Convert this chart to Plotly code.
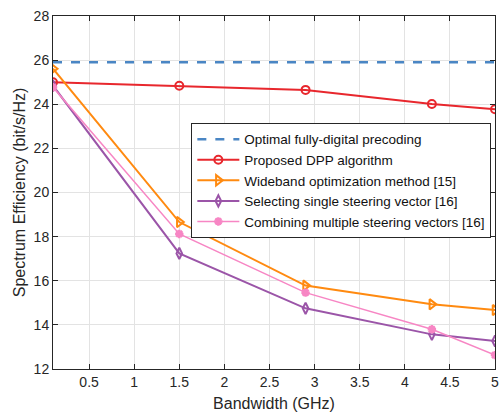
import plotly.graph_objects as go

# Bandwidth sweep (GHz)
bandwidth = [0.1, 1.5, 2.9, 4.3, 5.0]

# Spectrum efficiency (bit/s/Hz) per method
optimal_digital = [25.9, 25.9, 25.9, 25.9, 25.9]
proposed_dpp = [25.0, 24.84, 24.65, 24.01, 23.77]
wideband_opt = [25.61, 18.66, 15.78, 14.93, 14.67]
single_steering = [24.84, 17.24, 14.75, 13.57, 13.27]
multi_steering = [24.77, 18.12, 15.46, 13.8, 12.63]

x_ticks = [0.5, 1, 1.5, 2, 2.5, 3, 3.5, 4, 4.5, 5]
x_tick_text = ["0.5", "1", "1.5", "2", "2.5", "3", "3.5", "4", "4.5", "5"]
y_ticks = [12, 14, 16, 18, 20, 22, 24, 26, 28]

fig = go.Figure()

fig.add_trace(go.Scatter(
    x=bandwidth, y=optimal_digital, mode="lines",
    name="Optimal fully-digital precoding",
    line=dict(color="#4a86c4", width=2.5, dash="dash"),
))
fig.add_trace(go.Scatter(
    x=bandwidth, y=proposed_dpp, mode="lines+markers",
    name="Proposed DPP algorithm",
    line=dict(color="#e8272d", width=2),
    marker=dict(symbol="circle-open", size=8, line=dict(width=2, color="#e8272d")),
))
fig.add_trace(go.Scatter(
    x=bandwidth, y=wideband_opt, mode="lines+markers",
    name="Wideband optimization method [15]",
    line=dict(color="#ff8a10", width=2),
    marker=dict(symbol="triangle-right-open", size=9, line=dict(width=2, color="#ff8a10")),
))
fig.add_trace(go.Scatter(
    x=bandwidth, y=single_steering, mode="lines+markers",
    name="Selecting single steering vector [16]",
    line=dict(color="#9b55a8", width=2),
    marker=dict(symbol="diamond-tall-open", size=8, line=dict(width=2, color="#9b55a8")),
))
fig.add_trace(go.Scatter(
    x=bandwidth, y=multi_steering, mode="lines+markers",
    name="Combining multiple steering vectors [16]",
    line=dict(color="#f786c4", width=1.5),
    marker=dict(symbol="asterisk-open", size=7, line=dict(width=2.5, color="#f786c4")),
))

axis_common = dict(
    showgrid=True, gridcolor="#e3e3e3", gridwidth=1,
    showline=True, linecolor="#262626", linewidth=1, mirror="ticks",
    ticks="inside", ticklen=5, tickcolor="#262626",
    tickfont=dict(family="Liberation Sans, Arial, sans-serif", size=14, color="#262626"),
    zeroline=False,
)

fig.update_layout(
    width=500, height=413,
    margin=dict(l=53, r=1, t=16, b=44),
    paper_bgcolor="white", plot_bgcolor="white",
    font=dict(family="Liberation Sans, Arial, sans-serif", color="#262626"),
    xaxis=dict(
        range=[0.1, 5.0], tickvals=x_ticks, ticktext=x_tick_text,
        ticklabeloverflow="allow",
        title=dict(text="Bandwidth (GHz)", font=dict(size=16), standoff=9),
        **axis_common,
    ),
    yaxis=dict(
        range=[12, 28], tickvals=y_ticks,
        title=dict(text="Spectrum Efficiency (bit/s/Hz)", font=dict(size=16), standoff=4),
        **axis_common,
    ),
    legend=dict(
        x=0.313, y=0.697, xanchor="left", yanchor="top",
        bgcolor="white", bordercolor="#262626", borderwidth=1,
        font=dict(size=13.5, color="#111111"),
        tracegroupgap=0, itemwidth=42,
    ),
    showlegend=True,
)

fig.write_html("out.html")
